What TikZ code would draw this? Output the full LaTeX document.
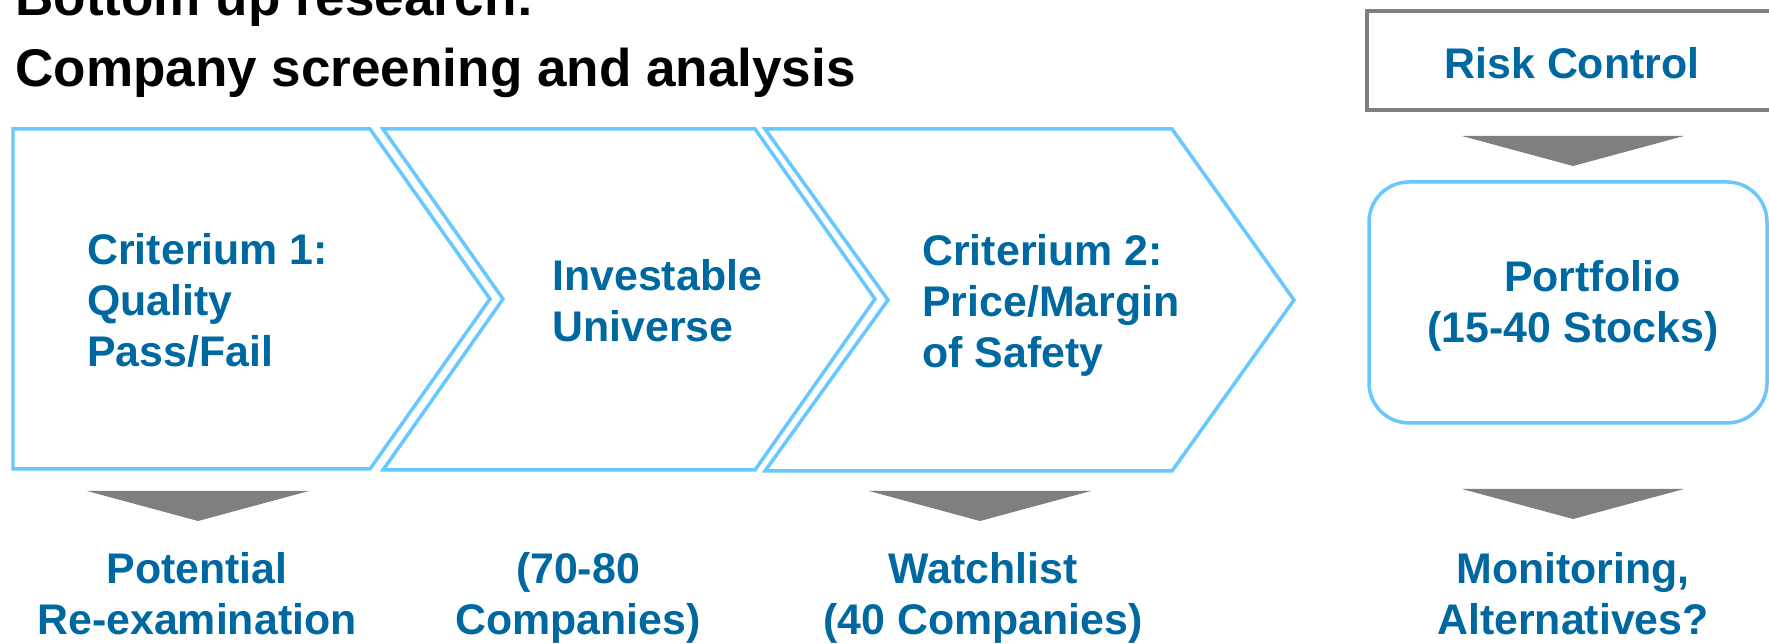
\documentclass[tikz,border=0pt]{standalone}
\usepackage{fontspec}
\setmainfont{Liberation Sans}
\usetikzlibrary{positioning, calc}
\definecolor{SkyBlue}{HTML}{66C8FF}
\definecolor{DeepBlue}{HTML}{0068A0}
\definecolor{MidGray}{HTML}{7F7F7F}

\begin{document}
\begin{tikzpicture}[
    x=0.02cm, y=-0.02cm,
    chevron/.style={draw=SkyBlue, line width=0.07cm},
    framebox/.style={draw=MidGray, line width=0.07cm},
    steptext/.style={inner sep=0pt, text=DeepBlue, align=left,
                     font=\fontsize{24.4}{29.2}\selectfont\bfseries},
    outtext/.style={steptext, align=center},
    funnel/.pic={\fill[MidGray] (-111,0) -- (111,0) -- (0,30) -- cycle;}
]
    \useasboundingbox (0,0) rectangle (1769,644);

    % title
    \node[inner sep=0pt, anchor=base west, align=left,
          font=\fontsize{30.2}{40.8}\selectfont\bfseries] (title) at (15,87)
          {Bottom up research:\\Company screening and analysis};

    % process chevrons
    \draw[chevron] (13,129) -- (370,129) -- (490,299) -- (370,469) -- (13,469) -- cycle;
    \draw[chevron] (383,129) -- (755,129) -- (875,299) -- (755,470) -- (383,470) -- (503,299) -- cycle;
    \draw[chevron] (765,129) -- (1172,129) -- (1294,300) -- (1172,471) -- (765,471) -- (888,300) -- cycle;

    \node[steptext, anchor=base west] (crit1) at (87,367) {Criterium 1:\\Quality\\Pass/Fail};
    \node[steptext, anchor=base west] (univ) at (552,342) {Investable\\Universe};
    \node[steptext, anchor=base west] (crit2) at (922,368) {Criterium 2:\\Price/Margin\\of Safety};

    % risk control and portfolio
    \draw[framebox] (1367,11) rectangle (1800,110);
    \node[steptext, anchor=base] (risk) at (1572,79) {Risk Control};
    \pic at (1573,136) {funnel};
    \draw[chevron, rounded corners=0.8cm] (1369,182) rectangle (1767,423);
    \node[outtext, anchor=base] (port) at (1573,343) {\hspace*{0.9em}Portfolio\\(15-40 Stocks)};

    % outcomes
    \pic at (198,491) {funnel};
    \pic at (980,491) {funnel};
    \pic at (1573,489) {funnel};
    \node[outtext, anchor=base] (pot) at (197,635) {Potential\\Re-examination};
    \node[outtext, anchor=base] (count) at (578,635) {(70-80\\Companies)};
    \node[outtext, anchor=base] (watch) at (983,635) {Watchlist\\(40 Companies)};
    \node[outtext, anchor=base] (mon) at (1573,635) {Monitoring,\\Alternatives?};
\end{tikzpicture}
\end{document}
